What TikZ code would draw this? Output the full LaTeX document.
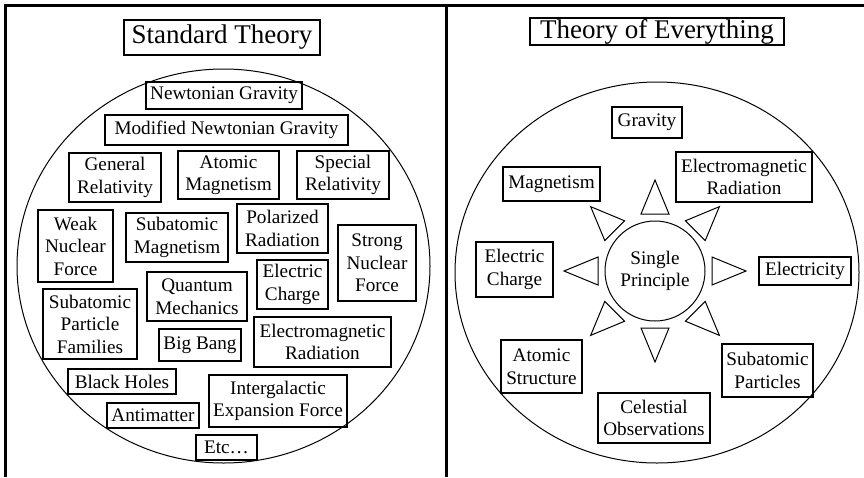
\documentclass[tikz,border=0pt]{standalone}
\usepackage{fontspec}
\setmainfont{Liberation Serif}
\tikzset{
  lbl/.style={draw, line width=1.1pt, inner sep=0pt, align=center,
    font=\fontsize{19.2}{22.5}\selectfont},
  bx/.style 2 args={lbl, minimum width=#1pt, minimum height=#2pt},
  ttl/.style 2 args={draw, line width=1.1pt, inner sep=0pt,
    font=\fontsize{27}{30}\selectfont, minimum width=#1pt, minimum height=#2pt},
  frame/.style={line width=3pt},
  ring/.style={line width=1pt},
  tri/.style={line width=1pt, line join=miter},
}
\begin{document}
\begin{tikzpicture}[x=1pt,y=-1pt]
\useasboundingbox (0,0) rectangle (864,477);
% frame
\draw[frame] (4,5) -- (864,5);
\draw[frame] (5,4) -- (5,477);
\draw[frame] (446.5,5) -- (446.5,477);

% ---------- left: Standard Theory ----------
\node[ttl={196}{35}] (st) at (222,37.5) {Standard Theory};
\draw[ring] (223.5,266) ellipse [x radius=206.5, y radius=197];

\node[bx={156}{27}] (ng)  at (224,95.5)   {Newtonian Gravity};
\node[bx={243}{30}] (mng) at (226.5,130)  {Modified Newtonian Gravity};
\node[bx={92}{49}]  (gr)  at (115,177.5)  {General\\Relativity};
\node[bx={101}{48}] (am)  at (228.5,175)  {Atomic\\Magnetism};
\node[bx={92}{48}]  (sr)  at (343,175)    {Special\\Relativity};
\node[bx={75}{72}]  (wnf) at (75.5,246)   {Weak\\Nuclear\\Force};
\node[bx={102}{49}] (sam) at (177,237.5)  {Subatomic\\Magnetism};
\node[bx={91}{49}]  (pr)  at (282.5,228.5){Polarized\\Radiation};
\node[bx={78}{76}]  (snf) at (377,263)    {Strong\\Nuclear\\Force};
\node[bx={100}{49}] (qm)  at (197,296.5)  {Quantum\\Mechanics};
\node[bx={71}{49}]  (ec)  at (292.5,284.5){Electric\\Charge};
\node[bx={94}{70}]  (spf) at (90,324)     {Subatomic\\Particle\\Families};
\node[bx={82}{32}]  (bb)  at (200,345)    {Big Bang};
\node[bx={137}{50}] (emr) at (322.5,342)  {Electromagnetic\\Radiation};
\node[bx={108}{25}] (bh)  at (122,381.5)  {Black Holes};
\node[bx={138}{52}] (ief) at (278,401)    {Intergalactic\\Expansion Force};
\node[bx={92}{25}]  (anm) at (153,415.5)  {Antimatter};
\node[bx={61}{25}]  (etc) at (226.5,447.5){Etc…};

% ---------- right: Theory of Everything ----------
\node[ttl={254}{27}] (toe) at (657,31.5) {Theory of Everything};
\draw[ring] (657,272.5) ellipse [x radius=202, y radius=190.5];

\node[lbl, circle, line width=1pt, minimum size=100pt] (sp) at (655,271) {Single\\Principle};
\foreach \a in {0,45,...,315}{
  \draw[tri, shift={(sp.center)}] (\a+13.8:58.7) -- (\a:91) -- (\a-13.8:58.7) -- cycle;
}

\node[bx={70}{31}]  (grv) at (647,122.5)  {Gravity};
\node[bx={136}{50}] (emr2) at (744,177)   {Electromagnetic\\Radiation};
\node[bx={97}{34}]  (mag) at (551.5,184)  {Magnetism};
\node[bx={77}{55}]  (ec2) at (514.5,269.5){Electric\\Charge};
\node[bx={92}{28}]  (ely) at (805,271)    {Electricity};
\node[bx={81}{53}]  (as)  at (541.5,366.5){Atomic\\Structure};
\node[bx={91}{53}]  (sap) at (767.5,370.5){Subatomic\\Particles};
\node[bx={112}{50}] (co)  at (654,418)    {Celestial\\Observations};
\end{tikzpicture}
\end{document}
